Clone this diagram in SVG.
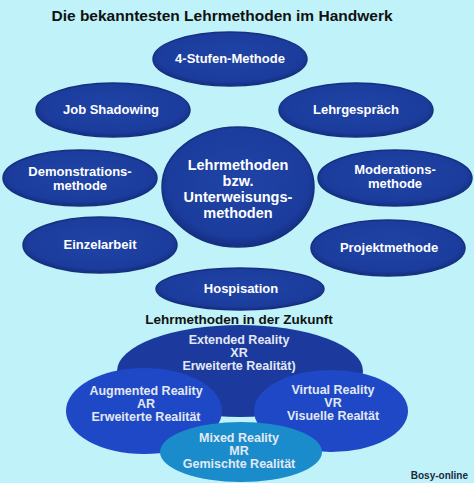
<svg xmlns="http://www.w3.org/2000/svg" width="474" height="483" viewBox="0 0 474 483">
<defs>
<radialGradient id="g1" cx="50%" cy="45%" r="55%">
<stop offset="0%" stop-color="#1f44a6"/>
<stop offset="85%" stop-color="#1b3c9c"/>
<stop offset="100%" stop-color="#142e82"/>
</radialGradient>
</defs>
<style>
.e{fill:url(#g1);stroke:#16307f;stroke-width:1.5}
.t{font-family:"Liberation Sans",Arial,sans-serif;font-weight:bold;fill:#ffffff;text-anchor:middle;font-size:13px}
.c{font-size:14.5px}
.f{font-family:"Liberation Sans",Arial,sans-serif;font-weight:bold;fill:#e2e9f4;text-anchor:middle;font-size:12.5px}
.h{font-family:"Liberation Sans",Arial,sans-serif;font-weight:bold;fill:#111111;text-anchor:middle}
</style>
<rect width="474" height="483" fill="#bff2f9"/>
<text class="h" x="222" y="21" font-size="15.5">Die bekanntesten Lehrmethoden im Handwerk</text>
<g id="stufen"><ellipse class="e" cx="230" cy="59" rx="77" ry="27"/><text class="t" x="230" y="63">4-Stufen-Methode</text></g>
<g id="job"><ellipse class="e" cx="113" cy="110" rx="77" ry="27"/><text class="t" x="111" y="114">Job Shadowing</text></g>
<g id="lehrgespraech"><ellipse class="e" cx="356" cy="110" rx="77" ry="27"/><text class="t" x="356" y="114">Lehrgespräch</text></g>
<g id="demo"><ellipse class="e" cx="80" cy="178" rx="77" ry="28"/><text class="t" x="80" y="176">Demonstrations-</text><text class="t" x="80" y="190">methode</text></g>
<g id="center"><ellipse class="e" cx="238" cy="187" rx="76" ry="60"/><text class="t c" x="238" y="170">Lehrmethoden</text><text class="t c" x="238" y="186">bzw.</text><text class="t c" x="238" y="202">Unterweisungs-</text><text class="t c" x="238" y="218">methoden</text></g>
<g id="moderation"><ellipse class="e" cx="395" cy="178" rx="77" ry="28"/><text class="t" x="395" y="174">Moderations-</text><text class="t" x="395" y="188">methode</text></g>
<g id="einzel"><ellipse class="e" cx="100" cy="245" rx="77" ry="28"/><text class="t" x="100" y="249">Einzelarbeit</text></g>
<g id="projekt"><ellipse class="e" cx="388" cy="248" rx="77" ry="28"/><text class="t" x="389" y="252">Projektmethode</text></g>
<g id="hospisation"><ellipse class="e" cx="240" cy="289" rx="84" ry="21"/><text class="t" x="241" y="293">Hospisation</text></g>
<text class="h" x="239" y="324" font-size="13.5">Lehrmethoden in der Zukunft</text>
<g id="xr"><ellipse cx="240" cy="371" rx="123" ry="46" fill="#1c3a9e"/><text class="f" x="239" y="344">Extended Reality</text><text class="f" x="239" y="357">XR</text><text class="f" x="239" y="370">Erweiterte Realität)</text></g>
<g id="ar"><ellipse cx="144" cy="411" rx="78" ry="43" fill="#1f48c6"/><text class="f" x="146" y="395">Augmented Reality</text><text class="f" x="146" y="408">AR</text><text class="f" x="146" y="421">Erweiterte Realität</text></g>
<g id="vr"><ellipse cx="331" cy="411" rx="77" ry="41" fill="#1f48c6"/><text class="f" x="333" y="394">Virtual Reality</text><text class="f" x="333" y="407">VR</text><text class="f" x="333" y="420">Visuelle Realtät</text></g>
<g id="mr"><ellipse cx="241" cy="452" rx="81" ry="30" fill="#1a8ccb"/><text class="f" x="239" y="442">Mixed Reality</text><text class="f" x="239" y="455">MR</text><text class="f" x="239" y="468">Gemischte Realität</text></g>
<text x="468" y="479" font-family="Liberation Sans,Arial,sans-serif" font-weight="bold" font-size="10" fill="#1a2a40" text-anchor="end">Bosy-online</text>
</svg>
